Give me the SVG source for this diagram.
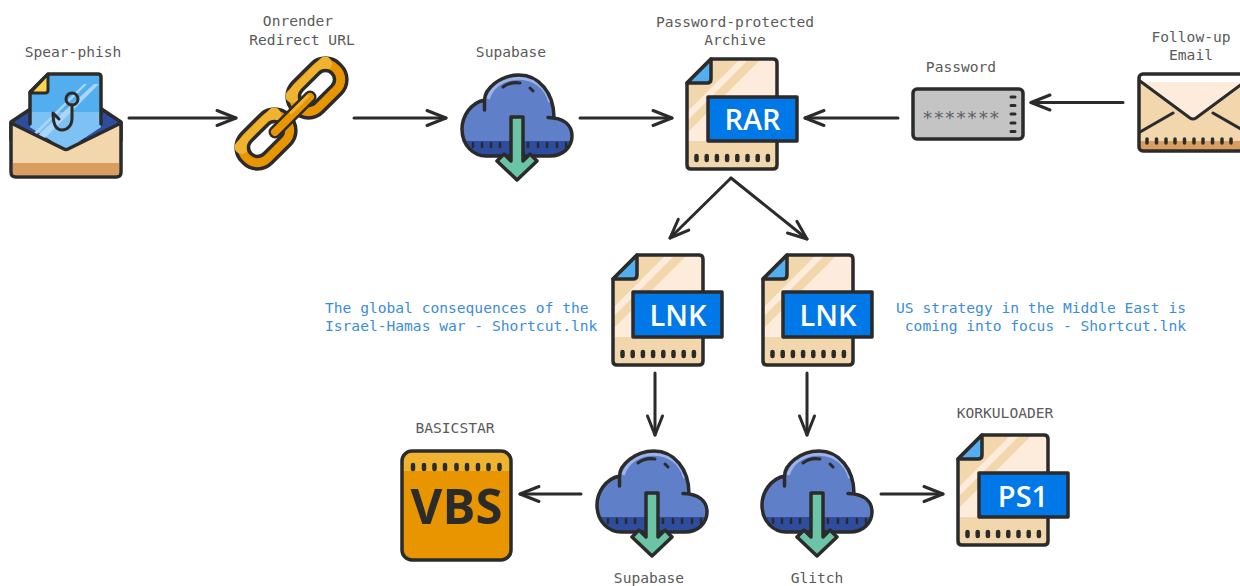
<svg xmlns="http://www.w3.org/2000/svg" xmlns:xlink="http://www.w3.org/1999/xlink" width="1240" height="586" viewBox="0 0 1240 586">
<style>
.lbl{font-family:"DejaVu Sans Mono","Liberation Mono",monospace;font-size:14.6px;fill:#5a5a5a;text-anchor:middle}
.blue{font-family:"DejaVu Sans Mono","Liberation Mono",monospace;font-size:14.6px;fill:#3a8ddc}
.tag{font-family:"Open Sans","Liberation Sans",sans-serif;font-size:29px;font-weight:600;fill:#fff;text-anchor:middle}
.ol{stroke:#2b2b2b;stroke-width:3.5;stroke-linejoin:round;stroke-linecap:round}
.ln{fill:none;stroke:#2b2b2b;stroke-width:3;stroke-linecap:round;stroke-linejoin:round}
.dots{fill:none;stroke:#2b2b2b;stroke-width:4.5;stroke-linecap:round}
.cn{fill:none;stroke:#2b2b2b;stroke-width:3;stroke-linecap:round;marker-end:url(#head)}
</style>
<defs>
<marker id="head" markerUnits="userSpaceOnUse" viewBox="-22 -10 25 20" refX="0" refY="0" markerWidth="25" markerHeight="20" orient="auto">
<path d="M-19,-7.5 L0,0 L-19,7.5" fill="none" stroke="#2b2b2b" stroke-width="3" stroke-linecap="round" stroke-linejoin="round"/>
</marker>
<clipPath id="docclip"><path d="M24,0H86Q90,0 90,4V106Q90,110 86,110H4Q0,110 0,106V24Z"/></clipPath>
<g id="doc">
<g clip-path="url(#docclip)">
<rect width="90" height="110" fill="#f2d6ac"/>
<polygon points="53,0 62,0 0,62 0,53" fill="#fdebdc"/>
<polygon points="74,0 90,0 90,82 0,82 0,74" fill="#fdebdc"/>
</g>
<path class="ol" fill="none" d="M24,0H86Q90,0 90,4V106Q90,110 86,110H4Q0,110 0,106V24Z"/>
<path class="ol" fill="#53aef0" d="M24,0V20Q24,24 20,24H0Z"/>
<path class="dots" d="M9.500,97V101M19.700,97V101M29.900,97V101M40.100,97V101M50.300,97V101M60.500,97V101M70.700,97V101M80.900,97V101"/>
</g>
<g id="cloud">
<path fill="#5f7fc8" d="M22.500,25C8,28 0,42 0,54C0,71 12,81 24,81H88C101,81 110,72 110,61C110,50 102,43 92,42.500C92,18 77,0 57,0C38,0 22.500,14 22.500,25Z"/>
<path fill="#2f4d9f" d="M2,66C6,76 14,81 24,81H88C98,81 106,76 109,66Z"/>
<path fill="none" stroke="#9db2ea" stroke-width="3.500" d="M26,24C30,11 42,3 57,3C72,3 84,12 88,27"/>
<path class="ol" fill="none" d="M22.500,35V25C22.500,14 38,0 57,0C77,0 92,18 92,42.500M22.500,25C8,28 0,42 0,54C0,71 12,81 24,81H88C101,81 110,72 110,61C110,50 102,43 86,42.500"/>
<path class="ln" d="M41,12C46,8 52,7 58,8M68,13L71,16"/>
<path class="ln" d="M11,68V72M20,68V72M29,68V72M38,68V72M66,68V72M76,68V72M85,68V72M95,68V72M104,68V72" style="stroke-width:2.500"/>
<polygon class="ol" fill="#6cc4a6" points="49,42 61,42 61,86 68,79 75,86 55,105 35,86 42,79 49,86"/>
</g>
</defs>

<g id="connectors">
<path class="cn" d="M129,118H236"/>
<path class="cn" d="M354,118H446"/>
<path class="cn" d="M580,118H672"/>
<path class="cn" d="M898,118H805"/>
<path class="cn" d="M1123,102.500H1031"/>
<path class="cn" d="M731,178L670,238"/>
<path class="cn" d="M731,178L807,239"/>
<path class="cn" d="M655,373V435"/>
<path class="cn" d="M807,373V435"/>
<path class="cn" d="M581,494H520"/>
<path class="cn" d="M881,494H943"/>
</g>

<g id="spear-phish">
<path class="ol" fill="#2f4d9f" d="M11,122L32,108H100L121,122V140H11Z"/>
<path fill="#53aef0" d="M48,74H98Q101,74 101,77V127L66,150L30,127V92Z"/>
<path fill="#7ec1f5" d="M30,112H101V127L66,150L30,127Z"/>
<polygon points="94,84 99,84 40,143 35,138" fill="#a9d6fa"/>
<polygon points="84,84 87,84 36,135 34,133" fill="#a9d6fa"/>
<path class="ol" fill="none" d="M30,124V92L48,74H98Q101,74 101,77V124"/>
<path class="ol" fill="#ffd24d" d="M48,74V90Q48,93 45,93H30Z" style="stroke-width:3"/>
<circle class="ln" cx="72" cy="99" r="6"/>
<path class="ln" d="M72,105V118C72,126 67,130 62,130C55,130 53,122 53,113L59,119"/>
<path class="ol" fill="#f2d6ac" d="M11,123L64,149Q66,150 68,149L121,123V172Q121,177 116,177H16Q11,177 11,172Z"/>
<path fill="#d99e5f" d="M13,163H119V172Q119,175 116,175H16Q13,175 13,172Z"/>
<text class="lbl" x="73" y="57">Spear-phish</text>
</g>

<g id="onrender">
<g transform="translate(266,139) rotate(-45)">
<rect x="-33" y="-21" width="66" height="42" rx="20" fill="#e99500" class="ol"/>
<rect x="-30" y="-18.500" width="60" height="14" rx="7" fill="#f0b330"/>
<rect x="-21" y="-9" width="42" height="18" rx="9" fill="#fff" class="ol"/>
</g>
<g transform="translate(317,88) rotate(-45)">
<rect x="-33" y="-21" width="66" height="42" rx="20" fill="#e99500" class="ol"/>
<rect x="-30" y="-18.500" width="60" height="14" rx="7" fill="#f0b330"/>
<rect x="-21" y="-9" width="42" height="18" rx="9" fill="#fff" class="ol"/>
</g>
<path d="M275,132L310,97" fill="none" stroke="#2b2b2b" stroke-width="13" stroke-linecap="round"/>
<path d="M275,132L310,97" fill="none" stroke="#e99500" stroke-width="8" stroke-linecap="round"/>
<path d="M291,113L308,96" fill="none" stroke="#f0b330" stroke-width="3" stroke-linecap="round"/>
<text class="lbl" x="298" y="26">Onrender</text>
<text class="lbl" x="302" y="44.500">Redirect URL</text>
</g>

<g id="supabase-1">
<use xlink:href="#cloud" href="#cloud" x="462" y="75"/>
<text class="lbl" x="511" y="56.500">Supabase</text>
</g>

<g id="archive">
<use xlink:href="#doc" href="#doc" x="687" y="59"/>
<rect class="ol" x="708" y="97" width="89" height="44" fill="#0078e8"/>
<text class="tag" x="752.500" y="129.500">RAR</text>
<text class="lbl" x="735" y="26.500">Password-protected</text>
<text class="lbl" x="735" y="44.500">Archive</text>
</g>

<g id="password">
<rect class="ol" x="913" y="89" width="110" height="50" rx="4" fill="#c4c4c4"/>
<text x="961" y="124" style="font-family:'DejaVu Sans Mono',monospace;font-size:18.500px;fill:#5f5f64;text-anchor:middle">*******</text>
<path class="ln" d="M1011,97H1015M1011,105.500H1015M1011,114H1015M1011,123H1015M1011,131.500H1015"/>
<text class="lbl" x="961" y="72">Password</text>
</g>

<g id="follow-up">
<rect x="1139" y="74" width="110" height="77" rx="4" fill="#f2d6ac"/>
<path d="M1141,82H1247L1193,119Z" fill="#fdebdc"/>
<rect x="1141" y="75" width="106" height="7" fill="#fff"/>
<path d="M1139,141H1249V151H1139Z" fill="#d99e5f"/>
<path class="ln" d="M1140,81L1190,118Q1193,120 1196,118L1246,81M1140,132L1173,113M1213,113L1246,132"/>
<rect class="ol" x="1139" y="74" width="110" height="77" rx="4" fill="none"/>
<path class="dots" d="M1147,139V143M1156.500,139V143M1166,139V143M1175,139V143M1184.500,139V143M1194,139V143M1203,139V143M1212.500,139V143M1222,139V143M1231,139V143" style="stroke-width:3.500"/>
<text class="lbl" x="1191" y="41.500">Follow-up</text>
<text class="lbl" x="1191" y="59.500">Email</text>
</g>

<g id="lnk-1">
<use xlink:href="#doc" href="#doc" x="613" y="255"/>
<rect class="ol" x="633" y="292" width="89" height="45" fill="#0078e8"/>
<text class="tag" x="678" y="325.500">LNK</text>
<text class="blue" x="325" y="312.500">The global consequences of the</text>
<text class="blue" x="325" y="330.500">Israel-Hamas war - Shortcut.lnk</text>
</g>

<g id="lnk-2">
<use xlink:href="#doc" href="#doc" x="763" y="255"/>
<rect class="ol" x="783" y="292" width="89" height="45" fill="#0078e8"/>
<text class="tag" x="828" y="325.500">LNK</text>
<text class="blue" x="1186" y="312.500" text-anchor="end">US strategy in the Middle East is</text>
<text class="blue" x="1186" y="330.500" text-anchor="end">coming into focus - Shortcut.lnk</text>
</g>

<g id="supabase-2">
<use xlink:href="#cloud" href="#cloud" x="597" y="451"/>
<text class="lbl" x="649" y="583">Supabase</text>
</g>

<g id="glitch">
<use xlink:href="#cloud" href="#cloud" x="762" y="451"/>
<text class="lbl" x="817" y="583">Glitch</text>
</g>

<g id="basicstar">
<rect x="402" y="451" width="109" height="109" rx="10" fill="#e99500"/>
<path d="M402,471V461Q402,451 412,451H501Q511,451 511,461V471Z" fill="#f0b330"/>
<rect class="ol" x="402" y="451" width="109" height="109" rx="10" fill="none"/>
<path class="dots" d="M413,465V469M424,465V469M434.500,465V469M445,465V469M456.500,465V469M467,465V469M478,465V469M488.500,465V469M499.500,465V469"/>
<text x="456.500" y="524" style="font-family:'Open Sans','Liberation Sans',sans-serif;font-size:49px;font-weight:700;fill:#2b2b2b;text-anchor:middle">VBS</text>
<text class="lbl" x="455" y="433">BASICSTAR</text>
</g>

<g id="korkuloader">
<use xlink:href="#doc" href="#doc" x="958" y="435"/>
<rect class="ol" x="979" y="473" width="89" height="44" fill="#0078e8"/>
<text class="tag" x="1023" y="506.500">PS1</text>
<text class="lbl" x="1005" y="418">KORKULOADER</text>
</g>
</svg>
